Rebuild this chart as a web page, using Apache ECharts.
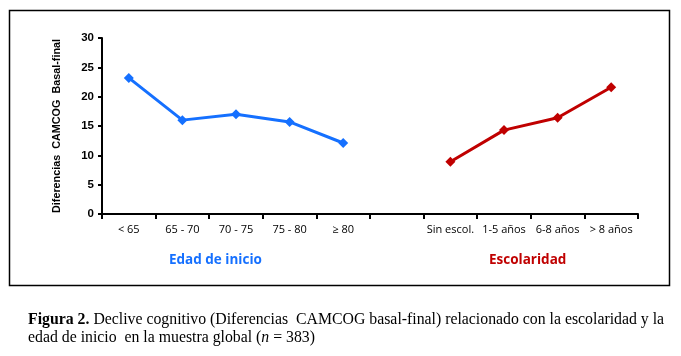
<!DOCTYPE html>
<html><head><meta charset="utf-8">
<script src="https://cdn.jsdelivr.net/npm/echarts@6/dist/echarts.min.js"></script>
<style>html,body{margin:0;padding:0;background:#fff}#c{width:681px;height:356px}</style>
</head><body><div id="c"></div>
<script>
const categories = ['< 65','65 - 70','70 - 75','75 - 80','≥ 80','','Sin escol.','1-5 años','6-8 años','> 8 años'];
const edadValues = [23.2, 16.0, 17.0, 15.7, 12.1, '-', '-', '-', '-', '-'];
const escolValues = ['-', '-', '-', '-', '-', '-', 8.9, 14.3, 16.4, 21.6];
const yTicks = [0,5,10,15,20,25,30];
const yTitle = 'Diferencias  CAMCOG  Basal-final';
const groupLabels = ['Edad de inicio','Escolaridad'];

const chart = echarts.init(document.getElementById('c'), null, {renderer:'canvas'});
const blue = '#1570ff', red = '#c00000';
chart.setOption({
  animation:false,
  grid:{left:102, right:43, top:38, bottom:142, containLabel:false},
  xAxis:{type:'category', data:categories, boundaryGap:true,
    axisLine:{lineStyle:{color:'#000', width:2}},
    axisTick:{show:true, alignWithLabel:false, length:5, inside:false, lineStyle:{color:'#000',width:2}},
    axisLabel:{color:'#000', fontFamily:'Open Sans', fontSize:11, margin:10, interval:0}
  },
  yAxis:{type:'value', min:yTicks[0], max:yTicks[yTicks.length-1], interval:5,
    axisLine:{show:true, lineStyle:{color:'#000', width:2}},
    axisTick:{show:true, length:4, lineStyle:{color:'#000',width:2}},
    splitLine:{show:false},
    axisLabel:{color:'#000', fontFamily:'Liberation Sans', fontWeight:'bold', fontSize:11.5, margin:8},
    name:yTitle, nameLocation:'middle', nameRotate:90, nameGap:39,
    nameTextStyle:{color:'#000', fontFamily:'Liberation Sans', fontWeight:'bold', fontSize:10.8}
  },
  series:[
    {type:'line', data:edadValues, symbol:'diamond', symbolSize:10, connectNulls:false,
     lineStyle:{color:blue, width:3}, itemStyle:{color:blue}},
    {type:'line', data:escolValues, symbol:'diamond', symbolSize:10,
     lineStyle:{color:red, width:3}, itemStyle:{color:red}}
  ],
  graphic:[
    {type:'rect', shape:{x:9.5, y:10.5, width:660, height:275}, style:{fill:null, stroke:'#000', lineWidth:1.5}, silent:true},
    {type:'text', left:169, top:253, style:{text:groupLabels[0], fill:blue, font:'bold 13.5px "Open Sans"'}},
    {type:'text', left:489, top:253, style:{text:groupLabels[1], fill:red, font:'bold 13.5px "Open Sans"'}},
    {type:'text', left:28, top:311, style:{
      text:'{b|Figura 2.} Declive cognitivo (Diferencias  CAMCOG basal-final) relacionado con la escolaridad y la\nedad de inicio  en la muestra global ({i|n} = 383)',
      rich:{b:{font:'bold 15.8px "Liberation Serif"', fill:'#000', lineHeight:18}, i:{font:'italic 15.8px "Liberation Serif"', fill:'#000', lineHeight:18}},
      font:'15.8px "Liberation Serif"', fill:'#000', lineHeight:18}}
  ]
});
</script></body></html>
